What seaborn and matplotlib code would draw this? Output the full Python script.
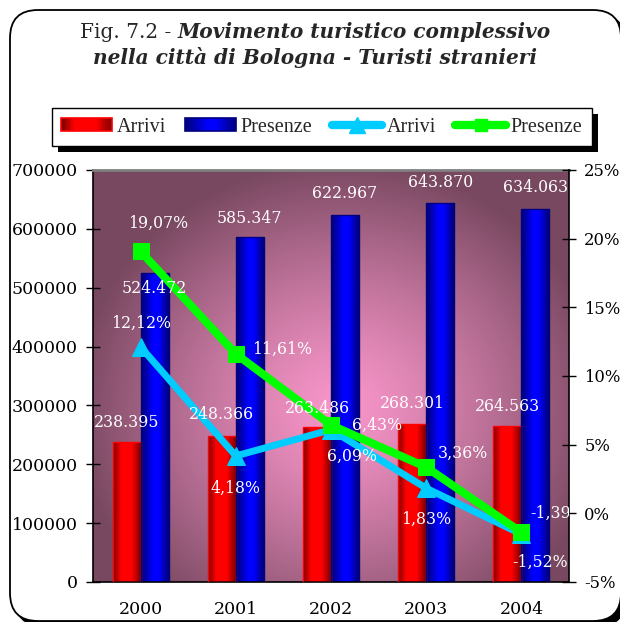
import numpy as np
import pandas as pd
import matplotlib
matplotlib.use("Agg")
import matplotlib.pyplot as plt
import seaborn as sns
from matplotlib.patches import FancyBboxPatch, Rectangle
from matplotlib.lines import Line2D
from matplotlib.legend_handler import HandlerBase
from matplotlib.colors import to_rgb
from matplotlib.font_manager import FontProperties

# ---------------- data ----------------
years = ["2000", "2001", "2002", "2003", "2004"]
arrivi = [238395, 248366, 263486, 268301, 264563]
presenze = [524472, 585347, 622967, 643870, 634063]
var_arrivi = [12.12, 4.18, 6.09, 1.83, -1.52]
var_presenze = [19.07, 11.61, 6.43, 3.36, -1.39]
left_ticks = [0, 100000, 200000, 300000, 400000, 500000, 600000, 700000]
right_ticks = [-5, 0, 5, 10, 15, 20, 25]

# ---------------- layout / style ----------------
W, H, DPI = 620, 622, 100
RED, BLUE, CYAN, GREEN = "#ff0000", "#0000ff", "#00ccff", "#00ff00"
# label offsets in pixels (dx, dy) and alignment
off_arrivi = [(0, 19), (0, 21), (0, 18), (0, 21), (0, 20)]
off_presenze = [(0, -15), (0, 19), (0, 22), (0, 21), (0, 21)]
off_var_arr = [((0, 24), "center"), ((0, -32), "center"), ((21, -27), "center"),
               ((0, -31), "center"), ((19, -28), "center")]
off_var_pre = [((18, 28), "center"), ((16, 5), "left"), ((21, 0), "left"),
               ((12, 14), "left"), ((9, 19), "left")]

sns.set_theme(style="white")
plt.rcParams["font.family"] = ["DejaVu Serif", "DejaVu Sans"]

fig = plt.figure(figsize=(W / DPI, H / DPI), dpi=DPI, facecolor="white")

# rounded outer frame with shadow
rs = 28 / W
fig.patches.append(FancyBboxPatch((15 / W, 1 - 626 / H), 611 / W, 611 / H,
                                  boxstyle=f"round,pad=0,rounding_size={rs}",
                                  transform=fig.transFigure, fc="black", ec="black",
                                  zorder=-3))
fig.patches.append(FancyBboxPatch((10 / W, 1 - 621 / H), 611 / W, 611 / H,
                                  boxstyle=f"round,pad=0,rounding_size={rs}",
                                  transform=fig.transFigure, fc="white", ec="black",
                                  lw=1.3, zorder=-2))

pos = [93 / W, 1 - 582 / H, (569 - 93) / W, (582 - 170) / H]

# background radial gradient
bg = fig.add_axes(pos, zorder=-1)
ny, nx = 300, 300
yy, xx = np.mgrid[0:1:ny * 1j, 0:1:nx * 1j]
d = np.sqrt(((xx - 0.52) / 0.56) ** 2 + ((yy - 0.42) / 0.6) ** 2)
t = np.clip(d, 0, 1) ** 1.25
c_center = np.array(to_rgb("#f996ca"))
c_edge = np.array(to_rgb("#784860"))
img = c_center * (1 - t)[..., None] + c_edge * t[..., None]
bg.imshow(img, origin="lower", extent=[0, 1, 0, 1], aspect="auto", interpolation="bilinear")
bg.set_axis_off()

ax = fig.add_axes(pos)
ax.patch.set_visible(False)

df = pd.DataFrame({
    "Anno": years * 2,
    "Serie": ["Arrivi"] * len(years) + ["Presenze"] * len(years),
    "Valore": arrivi + presenze,
})
sns.barplot(data=df, x="Anno", y="Valore", hue="Serie", hue_order=["Arrivi", "Presenze"],
            palette=[RED, BLUE], width=0.59, saturation=1, ax=ax, legend=False)


def hgrad(stops, n=120):
    xs = np.linspace(0, 1, n)
    p = [s[0] for s in stops]
    cols = np.array([to_rgb(s[1]) for s in stops])
    arr = np.stack([np.interp(xs, p, cols[:, k]) for k in range(3)], axis=-1)
    return arr[None, :, :]


red_grad = hgrad([(0, "#7a0000"), (0.28, "#ff0000"), (0.65, "#ff0000"), (1, "#6a0000")])
blue_grad = hgrad([(0, "#000070"), (0.42, "#0000ff"), (0.62, "#0000ff"), (1, "#000068")])
edges = ["#ff0000", "#000080"]
for cont, grad, ec in zip(ax.containers, [red_grad, blue_grad], edges):
    for p in cont.patches:
        x0, w, h = p.get_x(), p.get_width(), p.get_height()
        im = ax.imshow(grad, extent=[x0, x0 + w, 0, h], aspect="auto", zorder=2.5,
                       interpolation="bilinear")
        im.set_clip_path(p)
        p.set_facecolor("none")
        p.set_edgecolor(ec)
        p.set_linewidth(1.0)
        p.set_zorder(3)

ax2 = ax.twinx()
xpos = np.arange(len(years))
sns.lineplot(x=xpos, y=var_arrivi, ax=ax2, color=CYAN, lw=5, marker="^", markersize=13,
             markeredgecolor=CYAN, legend=False, zorder=3)
sns.lineplot(x=xpos, y=var_presenze, ax=ax2, color=GREEN, lw=5.8, marker="s", markersize=11,
             markeredgecolor=GREEN, legend=False, zorder=4)

ax.set_xlim(-0.5, len(years) - 0.5)
ax.set_ylim(0, 700000)
ax2.set_ylim(-5, 25)

# ticks
ax.set_yticks(left_ticks)
ax.set_yticklabels([str(v) for v in left_ticks], fontsize=12.5, color="black")
ax2.set_yticks(right_ticks)
ax2.set_yticklabels([f"{v}%" for v in right_ticks], fontsize=11.8, color="black")
ax.set_xticks(xpos)
ax.set_xticklabels(years, fontsize=12.5, color="black")
ax.set_xticks(np.arange(len(years) + 1) - 0.5, minor=True)
ax.tick_params(axis="x", which="major", length=0, pad=14)
ax.tick_params(axis="x", which="minor", direction="inout", length=10, width=1, color="black")
ax.tick_params(axis="y", direction="inout", length=10, width=1, color="black", pad=6,
               left=True)
ax2.tick_params(axis="y", direction="inout", length=10, width=1, color="black", pad=6,
                right=True)
ax.set_xlabel("")
ax.set_ylabel("")
ax2.set_ylabel("")

for sp in ["left", "bottom"]:
    ax.spines[sp].set_color("black")
    ax.spines[sp].set_linewidth(1.2)
ax.spines["right"].set_visible(False)
ax.spines["top"].set_color("#808080")
ax.spines["top"].set_linewidth(2)
for sp in ["left", "bottom", "top"]:
    ax2.spines[sp].set_visible(False)
ax2.spines["right"].set_color("black")
ax2.spines["right"].set_linewidth(1.2)

# data labels
lab_kw = dict(color="white", fontsize=11.3, textcoords="offset pixels", va="center", zorder=6)


def fmt_int(v):
    return f"{v:,}".replace(",", ".")


def fmt_pct(v):
    return f"{v:.2f}".replace(".", ",") + "%"


for cont, vals, offs in zip(ax.containers, [arrivi, presenze], [off_arrivi, off_presenze]):
    for p, v, o in zip(cont.patches, vals, offs):
        cx = p.get_x() + p.get_width() / 2
        ax2.annotate(fmt_int(v), xy=(cx, v), xycoords=ax.transData, xytext=o,
                     ha="center", **lab_kw)

for xi, v, (o, ha) in zip(xpos, var_arrivi, off_var_arr):
    ax2.annotate(fmt_pct(v), xy=(xi, v), xytext=o, ha=ha, **lab_kw)
for xi, v, (o, ha) in zip(xpos, var_presenze, off_var_pre):
    ax2.annotate(fmt_pct(v), xy=(xi, v), xytext=o, ha=ha, clip_on=True, **lab_kw)


# legend
class GradHandler(HandlerBase):
    def create_artists(self, legend, orig_handle, xdescent, ydescent, width, height,
                       fontsize, trans):
        grad = orig_handle.get_gid()
        arts = []
        n = 30
        cols = grad[0]
        idx = np.linspace(0, cols.shape[0] - 1, n).astype(int)
        for i, k in enumerate(idx):
            arts.append(Rectangle((-xdescent + i * width / n, -ydescent), width / n + 0.3,
                                  height, fc=cols[k], ec="none", transform=trans))
        arts.append(Rectangle((-xdescent, -ydescent), width, height, fc="none",
                              ec=orig_handle.get_edgecolor(), lw=1.2, transform=trans))
        return arts


h_red = Rectangle((0, 0), 1, 1, ec="#ff0000")
h_red.set_gid(hgrad([(0, "#7a0000"), (0.25, "#ff0000"), (0.7, "#ff0000"), (1, "#800000")]))
h_blue = Rectangle((0, 0), 1, 1, ec="#000080")
h_blue.set_gid(hgrad([(0, "#000080"), (0.45, "#0000ff"), (0.6, "#0000ff"), (1, "#000080")]))
h_cyan = Line2D([0], [0], color=CYAN, lw=6, marker="^", markersize=11,
                solid_capstyle="round")
h_green = Line2D([0], [0], color=GREEN, lw=6, marker="s", markersize=9,
                 solid_capstyle="round")

leg = fig.legend([h_red, h_blue, h_cyan, h_green], ["Arrivi", "Presenze", "Arrivi", "Presenze"],
                 loc="center", bbox_to_anchor=(322 / W, 1 - 127 / H), ncol=4,
                 frameon=True, fancybox=False, edgecolor="black", framealpha=1,
                 prop=FontProperties(family="Liberation Serif", size=14.5),
                 handlelength=2.5, handleheight=0.6, handletextpad=0.25,
                 columnspacing=0.95, borderpad=0.45,
                 handler_map={Rectangle: GradHandler()})
leg.get_frame().set_linewidth(1.0)
leg.set_zorder(5)

# title
y1, y2 = 1 - 32 / H, 1 - 58 / H
tfs = 14.5
ta = fig.text(0, y1, "Fig. 7.2 - ", fontsize=tfs, va="center", ha="left")
tb = fig.text(0, y1, "Movimento turistico complessivo", fontsize=tfs, fontweight="bold",
              style="italic", va="center", ha="left")
fig.text(315 / W, y2, "nella città di Bologna - Turisti stranieri", fontsize=tfs,
         fontweight="bold", style="italic", va="center", ha="center")

fig.canvas.draw()
r = fig.canvas.get_renderer()
wa = ta.get_window_extent(r).width
wb = tb.get_window_extent(r).width
start = 315 - (wa + wb) / 2
ta.set_x(start / W)
tb.set_x((start + wa) / W)

bb = leg.get_window_extent(r)
fig.patches.append(Rectangle(((bb.x0 + 6) / W, (bb.y0 - 6) / H), bb.width / W, bb.height / H,
                             transform=fig.transFigure, fc="black", ec="none", zorder=4))

fig.savefig("out.png", dpi=DPI, facecolor="white")
